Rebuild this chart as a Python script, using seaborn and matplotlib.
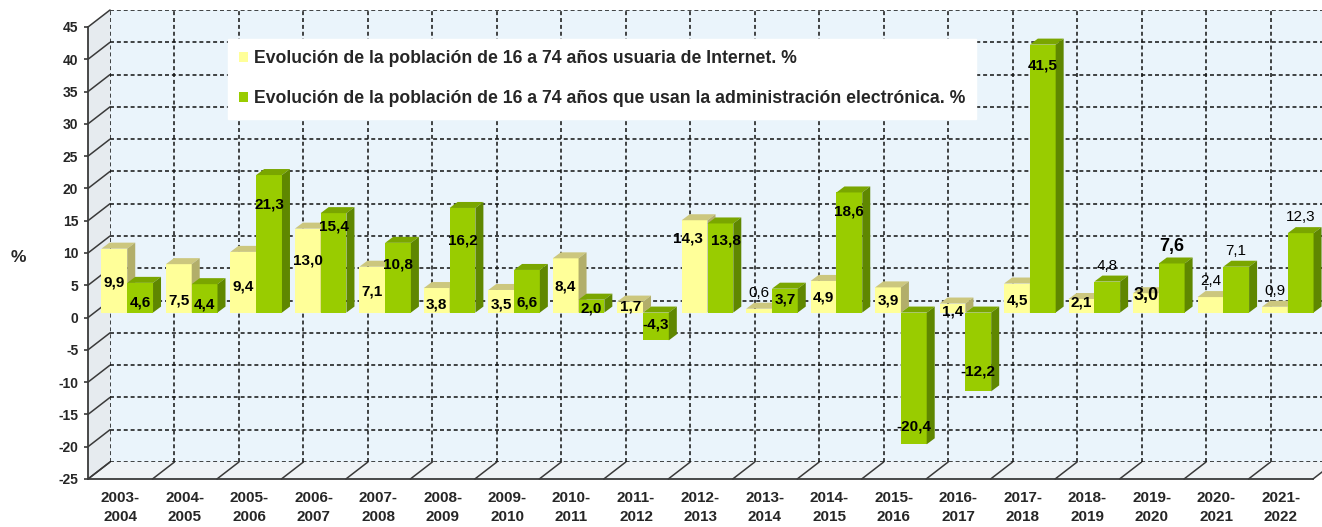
import numpy as np
import pandas as pd
import seaborn as sns
import matplotlib
matplotlib.use("Agg")
import matplotlib.pyplot as plt
from matplotlib.patches import Polygon, Patch
from matplotlib.lines import Line2D
from matplotlib.transforms import IdentityTransform

# ---------------- data ----------------
periods = ["2003-\n2004", "2004-\n2005", "2005-\n2006", "2006-\n2007", "2007-\n2008",
           "2008-\n2009", "2009-\n2010", "2010-\n2011", "2011-\n2012", "2012-\n2013",
           "2013-\n2014", "2014-\n2015", "2015-\n2016", "2016-\n2017", "2017-\n2018",
           "2018-\n2019", "2019-\n2020", "2020-\n2021", "2021-\n2022"]
internet = [9.9, 7.5, 9.4, 13.0, 7.1, 3.8, 3.5, 8.4, 1.7, 14.3,
            0.6, 4.9, 3.9, 1.4, 4.5, 2.1, 3.0, 2.4, 0.9]
admin = [4.6, 4.4, 21.3, 15.4, 10.8, 16.2, 6.6, 2.0, -4.3, 13.8,
         3.7, 18.6, -20.4, -12.2, 41.5, 4.8, 7.6, 7.1, 12.3]
series = ["Evolución de la población de 16 a 74 años usuaria de Internet. %",
          "Evolución de la población de 16 a 74 años que usan la administración electrónica. %"]
yticks = list(range(-25, 50, 5))

# ---------------- label layout (where each value label sits, in y units) ----------------
internet_label_y = [4.6, 1.8, 4.1, 8.1, 3.3, 1.2, 1.2, 4.0, 0.9, 11.5,
                    3.0, 2.3, 1.8, 0.2, 1.8, 1.5, 2.6, 4.9, 3.3]
admin_label_y = [1.5, 1.2, 16.8, 13.3, 7.4, 11.2, 1.6, 0.7, -1.8, 11.1,
                 2.0, 15.7, -17.7, -9.2, 38.3, 7.2, 10.3, 9.5, 14.8]
label_x_nudge = [{9: -0.1}, {9: 0.08}]
thin_labels = [{10, 17, 18}, {15, 17, 18}]
large_labels = [{16}, {16}]

# ---------------- style ----------------
front_cols = ["#FFFF99", "#99CC00"]
top_cols = ["#CCC77E", "#7AA600"]
side_cols = ["#B2AE6A", "#5F8700"]
wall_col = "#EAF4FB"
side_wall_col = "#E6EBEF"
floor_col = "#EFF3F6"
edge_col = "#3A3A3A"

sns.set_theme(style="white")
plt.rcParams['font.family'] = ['Liberation Sans', 'DejaVu Sans']

W, H = 1322, 527
fig = plt.figure(figsize=(W / 100, H / 100), dpi=100)
fig.patch.set_facecolor("white")


def rect(l, t, r, b):
    return [l / W, 1 - b / H, (r - l) / W, (b - t) / H]


# background drawing layer (pixel coords, y up)
bg = fig.add_axes([0, 0, 1, 1], zorder=0)
bg.set_xlim(0, W)
bg.set_ylim(0, H)
bg.axis("off")

# back wall
ax = fig.add_axes(rect(110, 10, 1335, 462), zorder=1)
ax.set_facecolor(wall_col)
ax.set_xlim(-0.5, len(periods) - 0.5)
ax.set_ylim(-25, 45)
ax.set_yticks(yticks)
ax.set_xticks(np.arange(-0.5, len(periods), 1.0))
ax.tick_params(length=0, labelleft=False, labelbottom=False)
ax.grid(True, color="#111111", linestyle=(0, (2.6, 1.9)), linewidth=1.1)
for s in ax.spines.values():
    s.set_visible(False)

# bars layer
axb = fig.add_axes(rect(95, 22, 1320, 474), zorder=2)
df = pd.DataFrame({
    "period": periods * 2,
    "value": internet + admin,
    "serie": [series[0]] * len(periods) + [series[1]] * len(periods),
})
sns.barplot(data=df, x="period", y="value", hue="serie", order=periods,
            hue_order=series, palette=front_cols, saturation=1, width=0.8,
            edgecolor="none", linewidth=0, legend=False, ax=axb)
axb.set_xlim(-0.5, len(periods) - 0.5)
axb.set_ylim(-25, 45)
axb.set_autoscale_on(False)
axb.axis("off")
axb.patch.set_alpha(0)

dx, dy = 8, 6
label_y = [internet_label_y, admin_label_y]
values = [internet, admin]
for h_i, cont in enumerate(axb.containers):
    for i, bar in enumerate(cont):
        x0, w = bar.get_x(), bar.get_width()
        y, hgt = bar.get_y(), bar.get_height()
        (X0, Ylo), (X1, Yhi) = axb.transData.transform(
            [(x0, min(y, y + hgt)), (x0 + w, max(y, y + hgt))])
        z = 10 + i * 10 + h_i * 4
        bar.set_zorder(z)
        top = Polygon([(X0, Yhi), (X1, Yhi), (X1 + dx, Yhi + dy), (X0 + dx, Yhi + dy)],
                      closed=True, transform=IdentityTransform(), facecolor=top_cols[h_i],
                      edgecolor="none", zorder=z + 1, clip_on=False)
        side = Polygon([(X1, Ylo), (X1 + dx, Ylo + dy), (X1 + dx, Yhi + dy), (X1, Yhi)],
                       closed=True, transform=IdentityTransform(), facecolor=side_cols[h_i],
                       edgecolor="none", zorder=z + 2, clip_on=False)
        axb.add_patch(top)
        axb.add_patch(side)
        v = values[h_i][i]
        txt = f"{v:.1f}".replace(".", ",")
        if i in large_labels[h_i]:
            fs, fw = 13, "bold"
        elif i in thin_labels[h_i]:
            fs, fw = 11, "normal"
        else:
            fs, fw = 11, "bold"
        axb.text(x0 + w / 2 + label_x_nudge[h_i].get(i, 0.0), label_y[h_i][i], txt,
                 ha="center", va="center", fontsize=fs, fontweight=fw, color="black",
                 zorder=1000)

# front axis
axf = fig.add_axes(rect(88, 27, 1313, 479), zorder=3)
axf.patch.set_alpha(0)
axf.set_xlim(-0.5, len(periods) - 0.5)
axf.set_ylim(-25, 45)
axf.set_yticks(yticks)
axf.set_yticklabels([str(t) for t in yticks])
axf.set_xticks(range(len(periods)))
axf.set_xticklabels(periods, linespacing=1.45)
for lab in axf.get_xticklabels():
    lab.set_fontweight("bold")
    lab.set_fontsize(11)
for lab in axf.get_yticklabels():
    lab.set_fontweight("bold")
    lab.set_fontsize(10)
axf.tick_params(axis="y", length=3, width=1.2, color=edge_col, pad=4, direction="out", left=True)
axf.tick_params(axis="x", length=0, pad=9)
for k in ["top", "right"]:
    axf.spines[k].set_visible(False)
for k in ["left", "bottom"]:
    axf.spines[k].set_color(edge_col)
    axf.spines[k].set_linewidth(1.3)

fig.text(18 / W, 1 - 257 / H, "%", fontsize=12.5, fontweight="bold", ha="center", va="center")

# side wall and floor
fr = axf.transAxes.transform([(0, 0), (0, 1), (1, 0)])
bk = ax.transAxes.transform([(0, 0), (0, 1), (1, 0)])
bg.add_patch(Polygon([fr[1], bk[1], bk[0], fr[0]], closed=True, facecolor=side_wall_col,
                     edgecolor="none"))
bg.add_patch(Polygon([fr[0], bk[0], bk[2], fr[2]], closed=True, facecolor=floor_col,
                     edgecolor="none"))
for t in yticks:
    p1 = axf.transData.transform((-0.5, t))
    p2 = ax.transData.transform((-0.5, t))
    bg.add_line(Line2D([p1[0], p2[0]], [p1[1], p2[1]], color=edge_col, lw=1.1))
for k in np.arange(-0.5, len(periods), 1.0):
    p1 = axf.transData.transform((k, -25))
    p2 = ax.transData.transform((k, -25))
    bg.add_line(Line2D([p1[0], p2[0]], [p1[1], p2[1]], color=edge_col, lw=1.1))

# legend
handles = [Patch(facecolor=c, edgecolor="none") for c in front_cols]
leg = fig.legend(handles, series, loc="upper left", bbox_to_anchor=(228 / W, 1 - 39 / H),
                 bbox_transform=fig.transFigure, frameon=True, fancybox=False, framealpha=1,
                 facecolor="white", edgecolor="white", prop={"weight": "bold", "size": 12.7},
                 handlelength=0.5, handleheight=0.5, handletextpad=0.3, labelspacing=1.3,
                 borderpad=0.65, borderaxespad=0)
leg.set_zorder(50)

fig.savefig("out.png", dpi=100, facecolor="white")
